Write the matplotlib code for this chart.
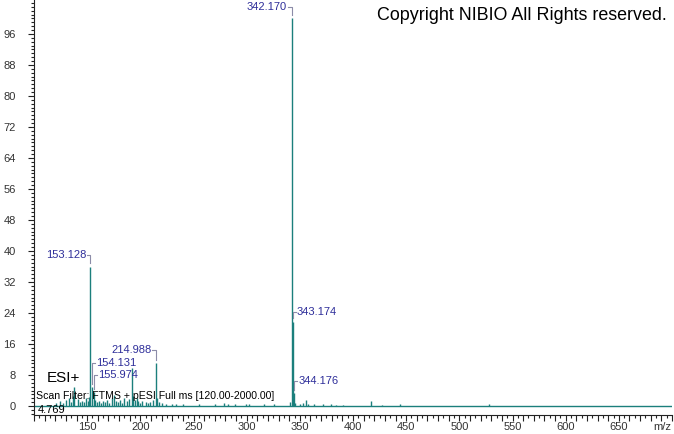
import matplotlib
matplotlib.use("Agg")
import matplotlib.pyplot as plt
from matplotlib.ticker import MultipleLocator, FixedLocator, FuncFormatter

plt.rcParams['font.family'] = ['Liberation Sans', 'DejaVu Sans']

# spectrum peaks (m/z, relative abundance)
mz = [121.0, 124.0, 127.0, 130.0, 133.0, 135.0, 137.0, 138.0, 141.0, 143.0,
      145.0, 147.0, 149.0, 151.0, 152.0, 153.128, 154.131, 155.974, 157.0, 159.0,
      161.0, 163.0, 165.0, 167.0, 169.0, 171.0, 173.0, 175.0, 177.0, 179.0,
      181.0, 183.0, 185.0, 187.0, 189.0, 192.2, 193.0, 195.0, 197.0, 198.0,
      200.0, 202.0, 205.0, 207.0, 209.0, 212.0, 214.988, 216.0, 218.0, 220.0,
      224.0, 230.0, 234.0, 240.0, 255.0, 270.0, 279.0, 282.0, 289.0, 299.0,
      302.0, 316.0, 326.0, 341.2, 342.170, 343.174, 344.176, 345.2, 350.0, 353.0,
      356.0, 358.0, 363.0, 372.0, 379.0, 384.0, 391.0, 417.0, 427.0, 444.0,
      528.0]
intensity = [0.8, 1.2, 0.9, 1.5, 2.0, 1.0, 2.5, 4.8, 1.8, 1.0,
             1.4, 1.0, 2.0, 1.2, 2.2, 36.0, 5.0, 3.6, 1.5, 1.0,
             1.3, 0.8, 1.2, 1.0, 1.6, 0.8, 2.0, 2.8, 1.2, 1.0,
             1.5, 0.8, 2.0, 1.2, 1.8, 9.9, 2.5, 1.5, 2.0, 1.2,
             0.8, 1.2, 1.0, 0.8, 1.0, 1.5, 11.0, 2.0, 1.0, 0.8,
             0.6, 0.5, 0.6, 0.5, 0.4, 0.5, 0.8, 0.5, 0.4, 0.6,
             0.5, 0.4, 0.5, 1.0, 100.0, 21.8, 3.4, 0.8, 0.5, 0.8,
             1.5, 0.6, 0.5, 0.4, 0.4, 0.3, 0.3, 1.3, 0.3, 0.5,
             0.4]

# labelled peaks: m/z, abundance, side of label, label height
label_mz = [342.170, 153.128, 214.988, 154.131, 155.974, 343.174, 344.176]
label_int = [100.0, 36.0, 11.0, 5.0, 3.6, 21.8, 3.4]
label_side = ['left', 'left', 'left', 'right', 'right', 'right', 'right']
label_y = [102.9, 39.0, 14.4, 11.0, 8.0, 24.3, 6.5]

yticks = [0, 8, 16, 24, 32, 40, 48, 56, 64, 72, 80, 88, 96]

fig = plt.figure(figsize=(6.74, 4.34), dpi=100)
ax = fig.add_axes([34 / 674, 19 / 434, 638 / 674, 415 / 434])

teal = '#1b7f7c'
ax.axhline(0, color=teal, lw=1.0, zorder=1)
ax.vlines(mz, 0, intensity, color=teal, lw=1.0, zorder=2)

brk = '#8c8ca8'
arm = 3.6
for m, h, side, ty in zip(label_mz, label_int, label_side, label_y):
    if side == 'left':
        ax.plot([m - arm, m, m], [ty, ty, h + 0.8], color=brk, lw=0.8)
        ax.text(m - arm - 0.6, ty, '%.3f' % m, ha='right', va='center',
                fontsize=8, color='#2e2e9a')
    else:
        ax.plot([m, m, m + arm], [h + 0.8, ty, ty], color=brk, lw=0.8)
        ax.text(m + arm + 0.6, ty, '%.3f' % m, ha='left', va='center',
                fontsize=8, color='#2e2e9a')

ax.set_xlim(100, 700)
ax.set_ylim(-2.32, 104.77)

for s in ['top', 'right']:
    ax.spines[s].set_visible(False)
ax.spines['left'].set_color('#222222')
ax.spines['bottom'].set_color('#222222')

ax.xaxis.set_major_locator(MultipleLocator(10))
ax.xaxis.set_minor_locator(MultipleLocator(5))
ax.xaxis.set_major_formatter(FuncFormatter(
    lambda v, p: '%d' % v if (v % 50 == 0 and 150 <= v <= 650) else ''))
ax.yaxis.set_major_locator(FixedLocator(yticks))
ax.yaxis.set_minor_locator(MultipleLocator(1))
ax.tick_params(axis='x', which='major', length=4, width=0.8, pad=1,
               labelsize=8, labelcolor='#333333', color='#222222')
ax.tick_params(axis='x', which='minor', length=2.5, width=0.8, color='#222222')
ax.tick_params(axis='y', which='major', length=4, width=0.8, pad=9,
               labelsize=8, labelcolor='#333333', color='#222222')
ax.tick_params(axis='y', which='minor', length=2.5, width=0.8, color='#222222')

fig.text(662 / 674, 1 - 427 / 434, 'm/z', ha='center', va='center',
         fontsize=8, color='#333333')
fig.text(667 / 674, 1 - 15 / 434, 'Copyright NIBIO All Rights reserved.',
         ha='right', va='center', fontsize=12.9, color='black')
fig.text(47 / 674, 1 - 378 / 434, 'ESI+', ha='left', va='center', fontsize=11,
         color='black')
fig.text(36 / 674, 1 - 396 / 434, 'Scan Filter: FTMS + pESI Full ms [120.00-2000.00]',
         ha='left', va='center', fontsize=7.55, color='black')
fig.text(38 / 674, 1 - 410 / 434, '4.769', ha='left', va='center', fontsize=8,
         color='black')

fig.savefig('out.png', dpi=100)
